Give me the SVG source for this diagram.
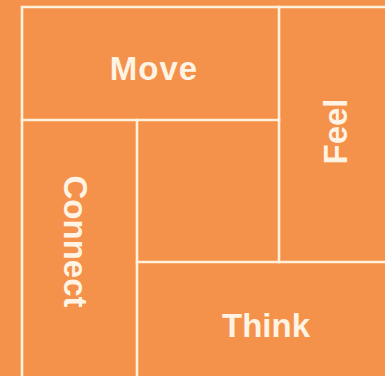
<svg xmlns="http://www.w3.org/2000/svg" width="385" height="376" viewBox="0 0 385 376">
<style>
.ln{stroke:#FFF1DC;stroke-width:2.6;fill:none;stroke-linecap:square}
.lb{fill:#FFF4E4;font-family:"Liberation Sans",Arial,sans-serif;font-weight:700;font-size:33px;text-anchor:middle}
</style>
<rect width="385" height="376" fill="#F4914A"/>
<g id="grid">
<path class="ln" d="M22,376 V7 H390"/>
<path class="ln" d="M22,120 H279"/>
<path class="ln" d="M279,7 V262"/>
<path class="ln" d="M137,120 V380"/>
<path class="ln" d="M137,262 H390"/>
</g>
<g id="move"><text class="lb" x="154" y="80" letter-spacing="1">Move</text></g>
<g id="feel"><text class="lb" transform="translate(347,131.5) rotate(-90)">Feel</text></g>
<g id="connect"><text class="lb" transform="translate(64,241.5) rotate(90)">Connect</text></g>
<g id="think"><text class="lb" x="266" y="337">Think</text></g>
<g id="center"></g>
<g id="connectors"></g>
</svg>
